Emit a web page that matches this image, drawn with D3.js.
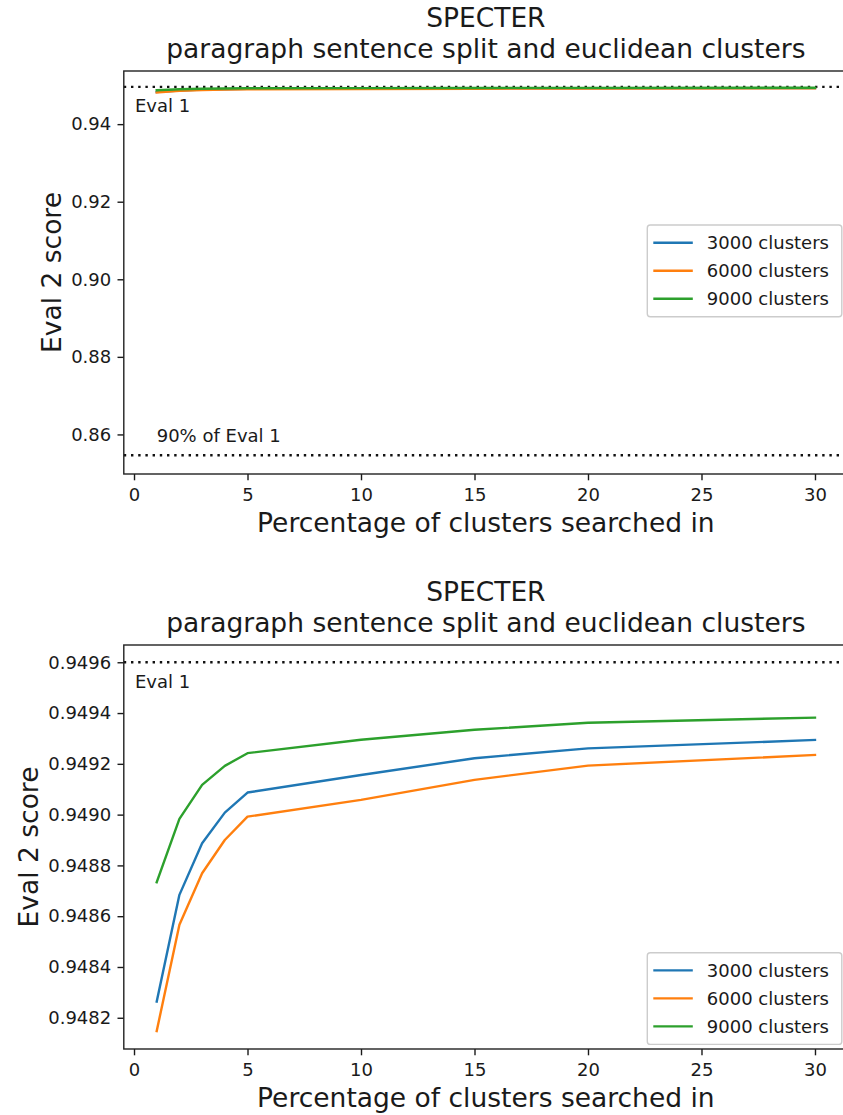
<!DOCTYPE html>
<html>
<head>
<meta charset="utf-8">
<script src="https://cdn.jsdelivr.net/npm/d3@7"></script>
<style>
  html, body { margin: 0; padding: 0; background: #fff; }
  svg { display: block; }
  text { font-family: "DejaVu Sans", sans-serif; fill: #1a1a1a; }
</style>
</head>
<body>
<svg id="chart" width="843" height="1115"></svg>
<script>
// ---------------- data ----------------
const titleLine1 = "SPECTER";
const titleLine2 = "paragraph sentence split and euclidean clusters";
const xLabel = "Percentage of clusters searched in";
const yLabel = "Eval 2 score";
const xValues = [1, 2, 3, 4, 5, 10, 15, 20, 30];
const seriesNames = ["3000 clusters", "6000 clusters", "9000 clusters"];
const clusters3000 = [0.948264, 0.948684, 0.948887, 0.949008, 0.949087, 0.949156, 0.949222, 0.949261, 0.949294];
const clusters6000 = [0.948148, 0.948566, 0.948769, 0.948900, 0.948992, 0.949058, 0.949137, 0.949193, 0.949235];
const clusters9000 = [0.948734, 0.948983, 0.949117, 0.949192, 0.949242, 0.949295, 0.949334, 0.949362, 0.949382];
const seriesColors = ["#1f77b4", "#ff7f0e", "#2ca02c"];
const eval1 = 0.9496;
const evalFraction = 0.9;
const xTicks = [0, 5, 10, 15, 20, 25, 30];
const topYTicks = [0.86, 0.88, 0.90, 0.92, 0.94];
const bottomYTicks = [0.9482, 0.9484, 0.9486, 0.9488, 0.9490, 0.9492, 0.9494, 0.9496];

const series = [clusters3000, clusters6000, clusters9000].map((vals, i) => ({
  name: seriesNames[i], color: seriesColors[i],
  points: xValues.map((x, j) => ({ x, y: vals[j] }))
}));

// ---------------- drawing ----------------
const svg = d3.select("#chart");
const xDomain = [-0.45, 31.45];
const left = 123.8, right = 847.9;
const ink = "#1a1a1a";

function panel(cfg) {
  const g = svg.append("g");
  const x = d3.scaleLinear().domain(xDomain).range([left, right]);
  const y = d3.scaleLinear().domain(cfg.yDomain).range([cfg.bottom, cfg.top]);

  // title
  g.append("text").attr("x", (left + right) / 2).attr("y", cfg.top - 44.5)
    .attr("text-anchor", "middle").attr("font-size", 26.5).text(titleLine1);
  g.append("text").attr("x", (left + right) / 2).attr("y", cfg.top - 13.5)
    .attr("text-anchor", "middle").attr("font-size", 26.5).text(titleLine2);

  // reference lines
  const refs = [{ v: eval1 }];
  if (cfg.showNinety) refs.push({ v: eval1 * evalFraction });
  refs.forEach(r => {
    g.append("line").attr("x1", left).attr("x2", right)
      .attr("y1", y(r.v)).attr("y2", y(r.v))
      .attr("stroke", "#111").attr("stroke-width", 2.4)
      .attr("stroke-dasharray", "2.4,4.8");
  });
  g.append("text").attr("x", x(0) + 1).attr("y", y(eval1) + 25.5)
    .attr("font-size", 18).text("Eval 1");
  if (cfg.showNinety) {
    g.append("text").attr("x", x(1)).attr("y", y(eval1 * evalFraction) - 13)
      .attr("font-size", 18).text("90% of Eval 1");
  }

  // series lines
  const line = d3.line().x(d => x(d.x)).y(d => y(d.y));
  series.forEach(s => {
    g.append("path").datum(s.points).attr("d", line)
      .attr("fill", "none").attr("stroke", s.color).attr("stroke-width", 2.4)
      .attr("stroke-linejoin", "round").attr("stroke-linecap", "square");
  });

  // axes
  const xAxis = d3.axisBottom(x).tickValues(xTicks).tickFormat(d3.format("d"))
    .tickSize(6.3).tickPadding(6.3);
  const xg = g.append("g").attr("transform", `translate(0,${cfg.bottom})`).call(xAxis);
  const yAxis = d3.axisLeft(y).tickValues(cfg.yTicks).tickFormat(d3.format(cfg.yFormat))
    .tickSize(6.3).tickPadding(6.3);
  const yg = g.append("g").attr("transform", `translate(${left},0)`).call(yAxis);
  [xg, yg].forEach(a => {
    a.select(".domain").remove();
    a.selectAll(".tick line").attr("stroke", ink).attr("stroke-width", 1.4);
    a.selectAll(".tick text").attr("font-size", 18).attr("font-family", "DejaVu Sans").attr("fill", ink);
  });
  xg.selectAll(".tick text").attr("dy", null).attr("y", 26.5);

  // frame
  g.append("rect").attr("x", left).attr("y", cfg.top)
    .attr("width", right - left).attr("height", cfg.bottom - cfg.top)
    .attr("fill", "none").attr("stroke", "#222").attr("stroke-width", 1.4);

  // axis labels
  g.append("text").attr("x", (left + right) / 2).attr("y", cfg.bottom + 58)
    .attr("text-anchor", "middle").attr("font-size", 26.5).text(xLabel);
  g.append("text")
    .attr("transform", `translate(${cfg.yLabelX},${(cfg.top + cfg.bottom) / 2}) rotate(-90)`)
    .attr("text-anchor", "middle").attr("font-size", 26.5).text(yLabel);

  // legend
  const lg = g.append("g");
  const rowH = 28;
  const lx = 647.3, lw = 194.5, lh = 91.7;
  const ly = cfg.legendTop;
  lg.append("rect").attr("x", lx).attr("y", ly).attr("width", lw).attr("height", lh)
    .attr("rx", 3).attr("fill", "#fff").attr("fill-opacity", 0.8)
    .attr("stroke", "#cccccc").attr("stroke-width", 1.4);
  series.forEach((s, i) => {
    const cy = ly + 17.7 + i * rowH;
    lg.append("line").attr("x1", lx + 6).attr("x2", lx + 45.5)
      .attr("y1", cy).attr("y2", cy)
      .attr("stroke", s.color).attr("stroke-width", 2.4);
    lg.append("text").attr("x", lx + 59.5).attr("y", cy + 6.5)
      .attr("font-size", 18).text(s.name);
  });
}

panel({ top: 71, bottom: 474, yDomain: [0.8498, 0.9537], yTicks: topYTicks, yFormat: ".2f",
        showNinety: true, yLabelX: 60.5, legendTop: 225 });
panel({ top: 645, bottom: 1049, yDomain: [0.948077, 0.949668], yTicks: bottomYTicks, yFormat: ".4f",
        showNinety: false, yLabelX: 37.5, legendTop: 952.7 });
</script>
</body>
</html>
